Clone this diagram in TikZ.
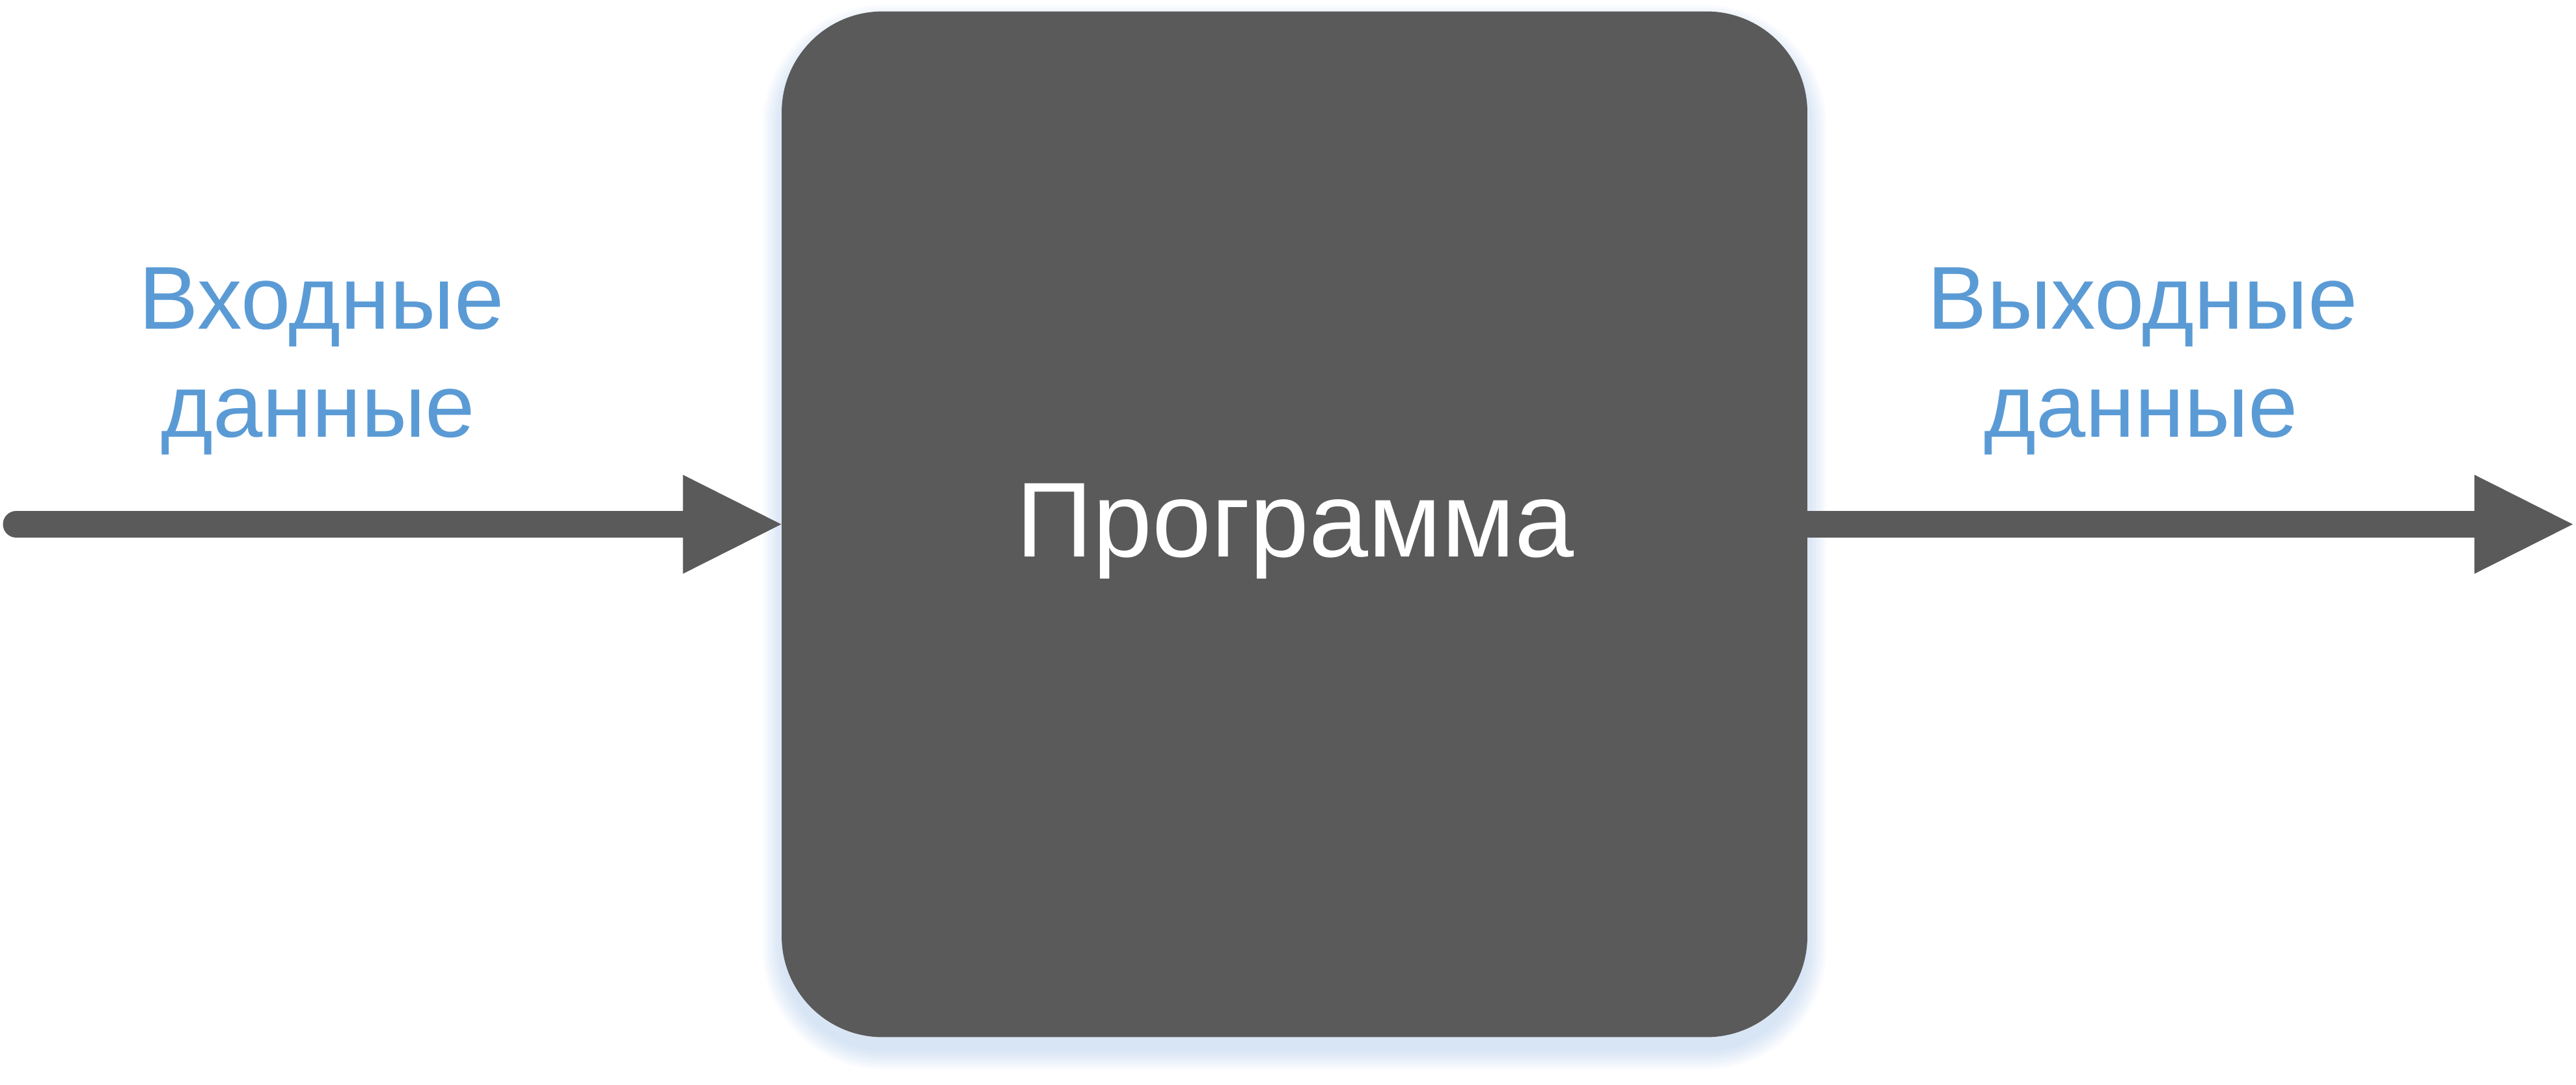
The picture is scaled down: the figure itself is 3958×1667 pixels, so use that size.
\documentclass[tikz,border=0pt]{standalone}
\usepackage{fontspec}
\setmainfont{Liberation Sans}
\usetikzlibrary{arrows.meta}
\definecolor{boxgray}{HTML}{5A5A5A}
\definecolor{lblblue}{HTML}{5B9BD5}
\definecolor{shadowblue}{HTML}{8DB3E2}
\begin{document}
\begin{tikzpicture}[x=0.01cm,y=-0.01cm,
  flow/.style={draw=boxgray, line width=0.41cm, line cap=round,
    -{Triangle[length=1.51cm,width=1.52cm,line width=0pt,fill=boxgray]}},
  progbox/.style={rectangle, rounded corners=1.55cm, fill=boxgray,
    minimum width=15.75cm, minimum height=15.75cm, inner sep=0pt},
  lbl/.style={text=lblblue, font=\fontsize{39pt}{47pt}\selectfont, inner sep=0pt, anchor=base},
  progtitle/.style={text=white, font=\fontsize{46.5pt}{56pt}\selectfont, inner sep=0pt, anchor=base}]
\useasboundingbox (0,0) rectangle (3958,1667);
% soft blue shadow, offset downwards
\foreach \e in {2,6,...,30}{
  \pgfmathsetmacro{\rr}{1.55+\e*0.01}
  \fill[shadowblue, opacity=0.05, rounded corners=\rr cm]
    (1202-\e, 18-\e+20) rectangle (2776+\e, 1593+\e+20);
}
\node[progbox] (box) at (1989, 805.5) {};
\node[progtitle] (progtext) at (1990, 855.7) {Программа};
\coordinate (inS) at (25, 805.5);
\coordinate (outE) at (3953, 805.5);
\draw[flow] (inS) -- (box.west);
\draw[flow] (box.east) -- (outE);
\node[lbl] (in1) at (494, 505) {Входные};
\node[lbl] (in2) at (489, 671) {данные};
\node[lbl] (out1) at (3292, 505) {Выходные};
\node[lbl] (out2) at (3290, 671) {данные};
\end{tikzpicture}
\end{document}
